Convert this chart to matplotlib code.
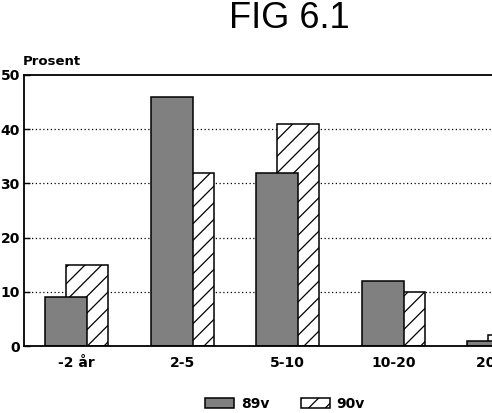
import matplotlib

matplotlib.use("Agg")
import matplotlib.pyplot as plt
import numpy as np

categories = ["-2 år", "2-5", "5-10", "10-20", "20 år-"]
v89 = [9, 46, 32, 12, 1]
v90 = [15, 32, 41, 10, 2]
yticks = [0, 10, 20, 30, 40, 50]

W, H = 492, 413
plt.rcParams["hatch.linewidth"] = 0.9

fig = plt.figure(figsize=(W / 100, H / 100), dpi=100, facecolor="white")
# axes run past the right edge, like the cropped original
ax = fig.add_axes([24 / W, 67 / H, 527.5 / W, 271 / H])

x = np.arange(len(categories))
bw = 0.4
b90 = ax.bar(x + 0.1, v90, width=bw, color="white", edgecolor="black",
             hatch="//", linewidth=1.1, zorder=3, label="90v")
b89 = ax.bar(x - 0.1, v89, width=bw, color="#808080", edgecolor="black",
             linewidth=1.1, zorder=4, label="89v")

# dotted grid drawn by hand so the ticks can sit above the bars
for yv in yticks[1:-1]:
    ax.axhline(yv, color="black", linestyle=(0, (1, 2)), linewidth=0.9,
               zorder=1)

ax.set_xlim(-0.5, 4.5)
ax.set_ylim(0, 50)
ax.set_yticks(yticks)
ax.set_xticks(x)
ax.set_xticklabels(categories)
ax.set_axisbelow(False)
ax.tick_params(axis="both", direction="in", length=4, width=1.0,
               labelsize=10)
ax.tick_params(axis="x", pad=7)
ax.tick_params(axis="y", pad=3)
for lbl in ax.get_xticklabels() + ax.get_yticklabels():
    lbl.set_fontweight("bold")
for sp in ax.spines.values():
    sp.set_linewidth(1.3)
    sp.set_zorder(5)

ax.annotate("Prosent", xy=(0, 1), xycoords="axes fraction",
            xytext=(-1, 5), textcoords="offset points",
            ha="left", va="bottom", fontsize=9.5, fontweight="bold")

fig.text(289 / W, 1 - 19 / H, "FIG 6.1", ha="center", va="center",
         fontsize=26, family="Liberation Sans")

fig.legend([b89, b90], ["89v", "90v"], loc="center",
           bbox_to_anchor=(285 / W, 1 - 404 / H), ncol=2, frameon=False,
           prop={"weight": "bold", "size": 10}, handlelength=2.1,
           handleheight=0.8, handletextpad=0.45, columnspacing=2.3)

fig.savefig("out.png", dpi=100, facecolor="white")
